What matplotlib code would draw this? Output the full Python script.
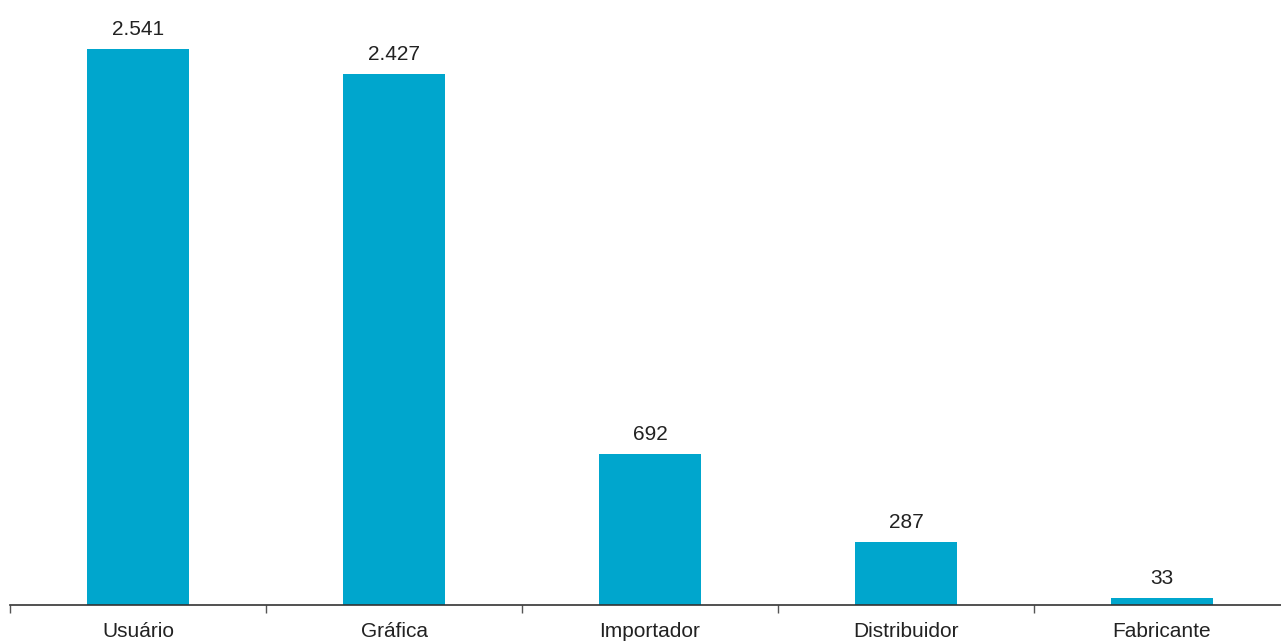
import numpy as np
import matplotlib.pyplot as plt

categories = ['Usuário', 'Gráfica', 'Importador', 'Distribuidor', 'Fabricante']
values = [2541, 2427, 692, 287, 33]
labels = ['2.541', '2.427', '692', '287', '33']

plt.rcParams['font.family'] = ['Liberation Sans', 'DejaVu Sans']

W, H = 1281, 642
fig = plt.figure(figsize=(W / 100, H / 100), dpi=100)
base = 605
ax = fig.add_axes([10 / W, (H - base) / H, 1280 / W, base / H])

x = np.arange(len(categories))
color = '#00A6CD'
ax.bar(x, values, width=0.4, color=color)
for xi, v, lab in zip(x, values, labels):
    ax.annotate(lab, (xi, v), xytext=(0, 7), textcoords='offset points',
                ha='center', va='bottom', fontsize=15, color='#222222')

ax.set_xlim(-0.5, len(categories) - 0.5)
ax.set_ylim(0, base / 0.2188)

ax.set_xticks(x)
ax.set_xticklabels(categories, fontsize=15, color='#222222')
ax.tick_params(axis='x', which='major', length=0, pad=12)
ax.set_xticks(np.arange(-0.5, len(categories) - 0.5, 1), minor=True)
ax.tick_params(axis='x', which='minor', length=6, width=1, color='#555555')
ax.set_yticks([])
for side in ['top', 'right', 'left']:
    ax.spines[side].set_visible(False)
ax.spines['bottom'].set_color('#333333')
ax.spines['bottom'].set_linewidth(1.2)

fig.savefig('out.png', dpi=100)
